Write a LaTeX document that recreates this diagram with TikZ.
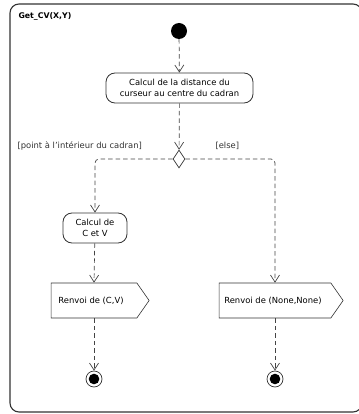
\documentclass[tikz,border=0pt]{standalone}
\usepackage{fontspec}
\setmainfont{DejaVu Sans}
\usetikzlibrary{arrows.meta,shapes.geometric,shapes.symbols}
\definecolor{ink}{HTML}{333333}
\definecolor{wire}{HTML}{444444}
\tikzset{
  x=1pt, y=-1pt,
  frame/.style={draw=ink, line width=1.1pt, rounded corners=9pt},
  action/.style={draw=ink, line width=0.8pt, rounded corners=9pt, fill=white,
    align=center, inner sep=2pt, font=\fontsize{8.4}{11}\selectfont},
  sendsig/.style={draw=ink, line width=0.6pt, fill=white, signal, signal to=east,
    signal pointer angle=110, font=\fontsize{8.4}{10}\selectfont,
    minimum height=35pt, inner sep=3pt},
  decision/.style={draw=ink, line width=0.7pt, diamond, fill=white,
    minimum width=12pt, minimum height=18pt, inner sep=0pt, aspect=0.67},
  initial/.style={circle, fill=black, minimum size=16pt, inner sep=0pt},
  final/.style={circle, draw=ink, line width=0.7pt, minimum size=16pt, inner sep=0pt,
    path picture={\fill[black] (path picture bounding box.center) circle (5.3pt);}},
  flow/.style={draw=wire, line width=0.7pt, dash pattern=on 4.5pt off 3pt,
    -{Straight Barb[length=7pt,width=9pt,line width=0.7pt]}, rounded corners=4pt},
  guard/.style={font=\fontsize{8.4}{10}\selectfont, text=ink},
}
\begin{document}
\begin{tikzpicture}
  \useasboundingbox (0,0) rectangle (358,414);
  % activity frame
  \draw[frame] (10,4) rectangle (362,412);
  \node[anchor=west, font=\bfseries\fontsize{7.8}{9}\selectfont] (title) at (15,16) {Get\_CV(X,Y)};

  % nodes
  \node[initial] (start) at (179,31) {};
  \node[action, minimum width=147pt, minimum height=30pt] (dist) at (179.5,88)
    {Calcul de la distance du\\curseur au centre du cadran};
  \node[decision] (dec) at (179,159) {};
  \node[action, minimum width=64pt, minimum height=30pt] (cv) at (95,228)
    {Calcul de\\C et V};
  \node[sendsig, minimum width=98pt] (retcv) at (94,300.5) {Renvoi de (C,V)\hspace*{6pt}};
  \node[sendsig, minimum width=124pt] (retnone) at (275,300.5) {Renvoi de (None,None)\hspace*{4pt}};
  \node[final] (endcv) at (94,379) {};
  \node[final] (endnone) at (275,379) {};

  % guards
  \node[guard, anchor=west] (gin) at (14,146) {[point à l'intérieur du cadran]};
  \node[guard, anchor=west] (gelse) at (212,146) {[else]};

  % control flows
  \draw[flow] (start) -- (dist);
  \draw[flow] (dist) -- (dec);
  \draw[flow] (dec.west) -| (cv.north);
  \draw[flow] (dec.east) -| (retnone.north);
  \draw[flow] (cv) -- (retcv.north);
  \draw[flow] (retcv.south) -- (endcv);
  \draw[flow] (retnone.south) -- (endnone);
\end{tikzpicture}
\end{document}
